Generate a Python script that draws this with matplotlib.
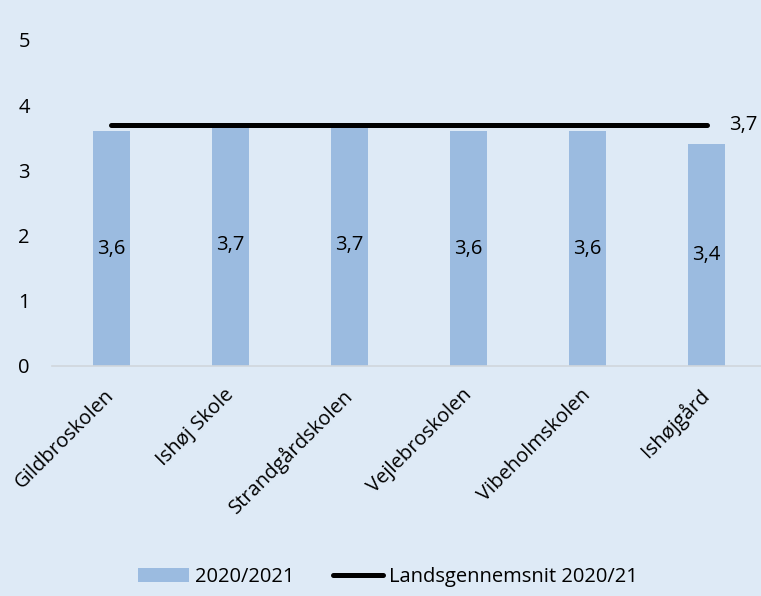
import matplotlib.pyplot as plt
from matplotlib.transforms import ScaledTranslation

# --- data ---
schools = ["Gildbroskolen", "Ishøj Skole", "Strandgårdskolen", "Vejlebroskolen",
           "Vibeholmskolen", "Ishøjgård"]
values_2020 = [3.6, 3.7, 3.7, 3.6, 3.6, 3.4]
national_avg = [3.7, 3.7, 3.7, 3.7, 3.7, 3.7]
y_ticks = [0, 1, 2, 3, 4, 5]

BG = "#DEEAF6"
BAR = "#9BBBE0"
FS = 14.5

plt.rcParams['font.family'] = ['Open Sans', 'DejaVu Sans']

fig = plt.figure(figsize=(7.61, 5.96), dpi=100, facecolor=BG)
ax = fig.add_axes([0.0683, 0.386, 0.9383, 0.547], facecolor=BG)

x = list(range(len(schools)))
bars = ax.bar(x, values_2020, width=0.31, color=BAR, label="2020/2021", zorder=2)
line, = ax.plot(x, national_avg, color="black", lw=3.6, solid_capstyle="round",
                label="Landsgennemsnit 2020/21", zorder=3)

# value labels inside the bars (Danish decimal comma)
for xi, v in zip(x, values_2020):
    ax.text(xi, v / 2, f"{v:.1f}".replace(".", ","), ha="center", va="center",
            fontsize=FS, color="black", zorder=4)
# label at the end of the average line
ax.annotate(f"{national_avg[-1]:.1f}".replace(".", ","),
            xy=(x[-1], national_avg[-1]), xytext=(16, 0), textcoords="offset points",
            ha="left", va="center", fontsize=FS)

ax.set_xlim(-0.5, len(schools) - 0.5)
ax.set_ylim(0, 5)
ax.set_yticks(y_ticks)
ax.set_yticklabels([str(t) for t in y_ticks], fontsize=FS)
ax.set_xticks(x)
ax.set_xticklabels(schools, rotation=45, ha="right", va="center",
                   rotation_mode="anchor", fontsize=FS)
for lab in ax.get_xticklabels():
    lab.set_transform(lab.get_transform() + ScaledTranslation(0.17, 0, fig.dpi_scale_trans))
ax.tick_params(axis="x", length=0, pad=19)
ax.tick_params(axis="y", length=0, pad=16)

for s in ["top", "right", "left"]:
    ax.spines[s].set_visible(False)
ax.spines["bottom"].set_color("#D0D6DC")
ax.spines["bottom"].set_linewidth(1.2)

fig.legend([bars, line], ["2020/2021", "Landsgennemsnit 2020/21"],
           loc="lower center", bbox_to_anchor=(0.51, -0.016), ncol=2, frameon=False,
           fontsize=FS, handlelength=2.5, handletextpad=0.3, columnspacing=1.9)

fig.savefig("out.png", dpi=100, facecolor=BG)
